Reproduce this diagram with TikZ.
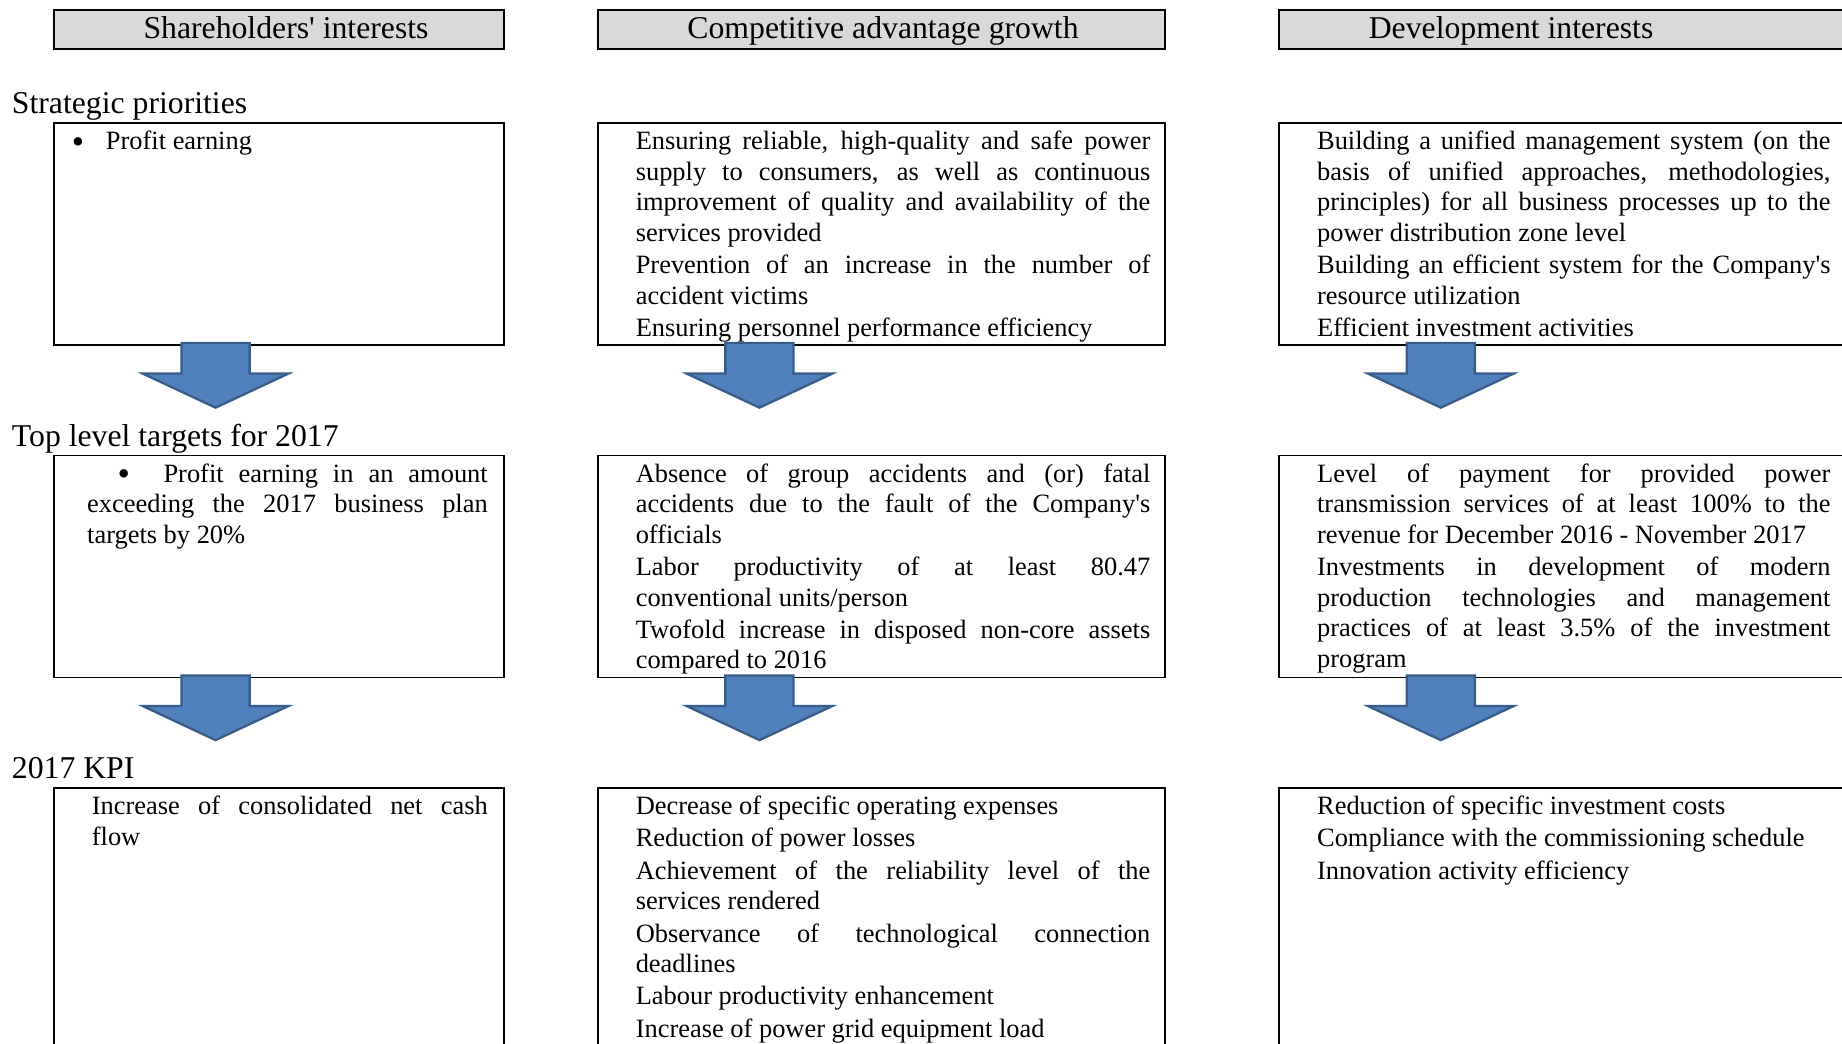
\documentclass[tikz,border=0pt]{standalone}
\usepackage{fontspec}
\setmainfont{Liberation Serif}
\hyphenpenalty=10000
\exhyphenpenalty=10000
\tolerance=10000

\definecolor{hdrGray}{HTML}{D9D9D9}
\definecolor{arrFill}{HTML}{4F81BD}
\definecolor{arrEdge}{HTML}{385D8A}

\newcommand{\bigdot}{\raisebox{-3pt}{\fontsize{30}{26}\selectfont\textbullet}}

\tikzset{
  hdrbox/.style={draw, fill=hdrGray, line width=1.5pt, anchor=north west,
    minimum height=33pt, inner sep=0pt},
  hdrtext/.style={anchor=base west, inner sep=0pt, font=\fontsize{27}{32}\selectfont},
  rowlabel/.style={anchor=base west, inner sep=0pt, font=\fontsize{27}{32}\selectfont},
  listbox/.style={draw, line width=1.5pt, anchor=north west, inner sep=0pt},
  listtext/.style={anchor=north west, inner sep=0pt, align=justify,
    font=\fontsize{22.5}{26}\selectfont,
    execute at begin node={\setlength{\parskip}{1.5pt}\strut}},
  blkarrow/.style={fill=arrFill, draw=arrEdge, line width=2pt, line join=miter}
}

\begin{document}
\begin{tikzpicture}[x=1pt, y=-1pt]

\useasboundingbox (0,0) rectangle (1568,888);

% column headers
\node[hdrbox, minimum width=383pt] (hShare) at (45,8) {};
\node[hdrbox, minimum width=483pt] (hComp) at (508,8) {};
\node[hdrbox, minimum width=483pt] (hDev) at (1088,8) {};
\node[hdrtext] (tShare) at (122,33) {Shareholders\textquotesingle{} interests};
\node[hdrtext] (tComp) at (585,33) {Competitive advantage growth};
\node[hdrtext] (tDev) at (1165,33) {Development interests};

% row labels
\node[rowlabel] (lStrat) at (10,97) {Strategic priorities};
\node[rowlabel] (lTarget) at (10,380) {Top level targets for 2017};
\node[rowlabel] (lKpi) at (10,663) {2017 KPI};

% boxes
\node[listbox, minimum width=383pt, minimum height=189pt] (bShareA) at (45,104) {};
\node[listbox, minimum width=483pt, minimum height=189pt] (bCompA) at (508,104) {};
\node[listbox, minimum width=483pt, minimum height=189pt] (bDevA) at (1088,104) {};
\node[listbox, minimum width=383pt, minimum height=189pt] (bShareB) at (45,387) {};
\node[listbox, minimum width=483pt, minimum height=189pt] (bCompB) at (508,387) {};
\node[listbox, minimum width=483pt, minimum height=189pt] (bDevB) at (1088,387) {};
\node[listbox, minimum width=383pt, minimum height=300pt] (bShareC) at (45,670) {};
\node[listbox, minimum width=483pt, minimum height=300pt] (bCompC) at (508,670) {};
\node[listbox, minimum width=483pt, minimum height=300pt] (bDevC) at (1088,670) {};

% strategic priorities
\node[listtext, text width=360pt] (xShareA) at (61,109)
  {\makebox[29pt][l]{\bigdot}Profit earning};
\node[listtext, text width=438pt] (xCompA) at (541,109)
  {Ensuring reliable, high-quality and safe power\linebreak
   supply to consumers, as well as continuous\linebreak
   improvement of quality and availability of the\linebreak
   services provided\par
   Prevention of an increase in the number of\linebreak
   accident victims\par
   Ensuring personnel performance efficiency};
\node[listtext, text width=437pt] (xDevA) at (1121,109)
  {Building a unified management system (on the\linebreak
   basis of unified approaches, methodologies,\linebreak
   principles) for all business processes up to the\linebreak
   power distribution zone level\par
   Building an efficient system for the Company\textquotesingle s\linebreak
   resource utilization\par
   Efficient investment activities};

% top level targets
\node[listtext, text width=341pt] (xShareB) at (74,392)
  {\hspace*{26pt}\makebox[39pt][l]{\bigdot}Profit earning in an amount\linebreak
   exceeding the 2017 business plan\linebreak
   targets by 20\%};
\node[listtext, text width=438pt] (xCompB) at (541,392)
  {Absence of group accidents and (or) fatal\linebreak
   accidents due to the fault of the Company\textquotesingle s\linebreak
   officials\par
   Labor productivity of at least 80.47\linebreak
   conventional units/person\par
   Twofold increase in disposed non-core assets\linebreak
   compared to 2016};
\node[listtext, text width=437pt] (xDevB) at (1121,392)
  {Level of payment for provided power\linebreak
   transmission services of at least 100\% to the\linebreak
   revenue for December 2016 - November 2017\par
   Investments in development of modern\linebreak
   production technologies and management\linebreak
   practices of at least 3.5\% of the investment\linebreak
   program};

% KPI
\node[listtext, text width=337pt] (xShareC) at (78,675)
  {Increase of consolidated net cash\linebreak
   flow};
\node[listtext, text width=438pt] (xCompC) at (541,675)
  {Decrease of specific operating expenses\par
   Reduction of power losses\par
   Achievement of the reliability level of the\linebreak
   services rendered\par
   Observance of technological connection\linebreak
   deadlines\par
   Labour productivity enhancement\par
   Increase of power grid equipment load};
\node[listtext, text width=437pt] (xDevC) at (1121,675)
  {Reduction of specific investment costs\par
   Compliance with the commissioning schedule\par
   Innovation activity efficiency};

% block arrows
\coordinate (cArrA1) at (183.5,292);
\coordinate (cArrB1) at (646.5,292);
\coordinate (cArrC1) at (1226.5,292);
\coordinate (cArrA2) at (183.5,575);
\coordinate (cArrB2) at (646.5,575);
\coordinate (cArrC2) at (1226.5,575);

\foreach \a in {cArrA1, cArrB1, cArrC1, cArrA2, cArrB2, cArrC2}
{
    \draw[blkarrow] ([shift={(-29,0)}]\a) -- ++(58,0) -- ++(0,26) -- ++(33,0)
      -- ++(-62,29) -- ++(-62,-29) -- ++(33,0) -- cycle;
};

\end{tikzpicture}
\end{document}
